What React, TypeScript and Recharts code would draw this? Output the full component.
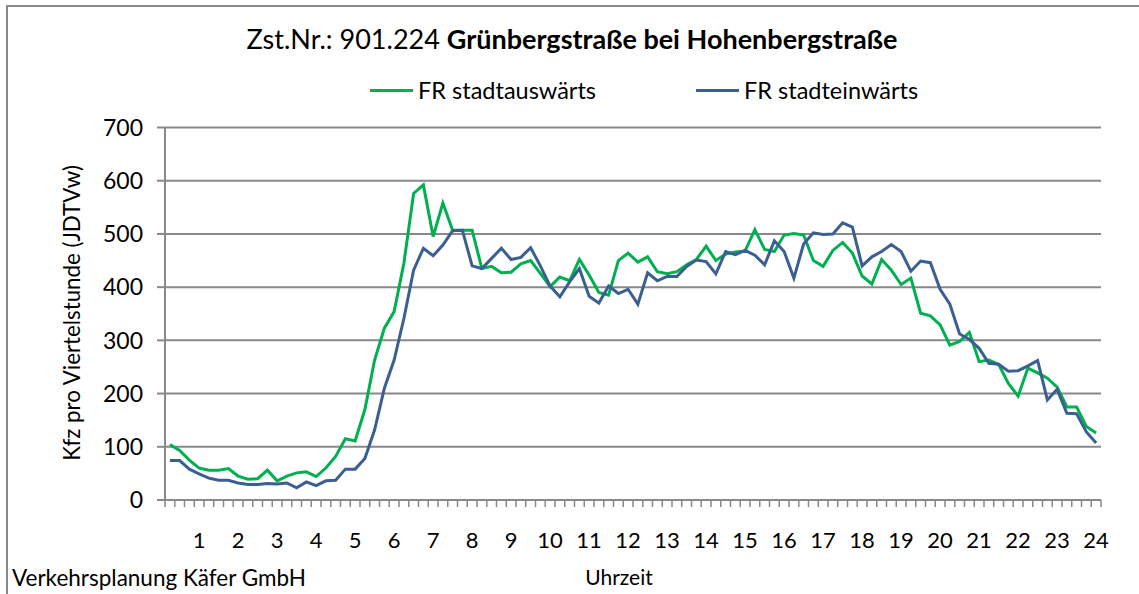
import React from "react";
import { LineChart, Line, XAxis, YAxis, CartesianGrid } from "recharts";

const GREEN = "#00B050";
const BLUE = "#3B5F91";
const GRID = "#898989";
const FONT = "Lato, 'Open Sans', sans-serif";

// Kfz pro Viertelstunde, 96 Viertelstunden (00:15 … 24:00)
const stadtauswaerts = [
  104, 93, 75, 60, 56, 56, 59, 45, 39, 40, 56, 36, 45, 51, 53, 44,
  60, 82, 115, 111, 170, 263, 323, 354, 445, 576, 592, 495, 558, 507, 507, 507,
  435, 439, 427, 428, 444, 450, 426, 401, 419, 412, 452, 423, 390, 385, 450, 464,
  447, 457, 429, 425, 429, 442, 452, 477, 450, 462, 466, 468, 508, 471, 467, 498,
  501, 498, 450, 439, 469, 484, 464, 421, 406, 452, 432, 405, 417, 351, 346, 329,
  291, 298, 315, 260, 263, 255, 219, 195, 248, 239, 229, 212, 175, 175, 138, 126,
];

const stadteinwaerts = [
  74, 74, 58, 49, 41, 37, 37, 32, 29, 29, 31, 30, 32, 23, 34, 27,
  36, 37, 58, 58, 78, 132, 210, 263, 341, 432, 473, 459, 479, 506, 507, 440,
  435, 454, 473, 452, 456, 474, 440, 402, 382, 410, 435, 383, 370, 402, 388, 396,
  368, 427, 412, 420, 420, 439, 451, 448, 425, 467, 461, 469, 460, 442, 487, 467,
  417, 481, 502, 499, 500, 521, 513, 440, 457, 467, 480, 467, 430, 449, 446, 396,
  368, 312, 302, 285, 257, 255, 242, 243, 252, 262, 188, 208, 163, 162, 128, 107,
];

const hourLabels = [
  "1", "2", "3", "4", "5", "6", "7", "8", "9", "10", "11", "12",
  "13", "14", "15", "16", "17", "18", "19", "20", "21", "22", "23", "24",
];
const yTicks = [0, 100, 200, 300, 400, 500, 600, 700];

// slot = Viertelstunden-Index, Punkt liegt in der Mitte der Kategorie
const data = stadtauswaerts.map((v, i) => ({
  slot: i + 0.5,
  aus: v,
  ein: stadteinwaerts[i],
}));
const slotTicks = Array.from({ length: stadtauswaerts.length + 1 }, (_, k) => k);
const hourTicks = hourLabels.map((_, h) => (h + 1) * 4 - 0.5);

const textStyle: React.CSSProperties = {
  position: "absolute",
  fontFamily: FONT,
  color: "#000",
  whiteSpace: "nowrap",
  lineHeight: 1.2,
};

function LegendItem({ color, label, left }: { color: string; label: string; left: number }) {
  return (
    <div style={{ ...textStyle, left, top: 76, fontSize: 23.5, display: "flex", alignItems: "center" }}>
      <span style={{ display: "inline-block", width: 43, height: 3, background: color, marginRight: 5 }} />
      <span>{label}</span>
    </div>
  );
}

export default function App() {
  return (
    <div style={{ position: "absolute", left: 0, top: 0, width: 1139, height: 594, overflow: "hidden", background: "#fff" }}>
      <div
        style={{
          position: "absolute",
          left: 6,
          top: 5,
          width: 1133,
          height: 589,
          borderLeft: `2px solid ${GRID}`,
          borderTop: `2px solid ${GRID}`,
          boxSizing: "border-box",
        }}
      />

      <LineChart
        width={1139}
        height={594}
        data={data}
        margin={{ top: 127.5, right: 38, bottom: 34, left: 0 }}
        style={{ position: "absolute", left: 0, top: 0 }}
      >
        <CartesianGrid xAxisId="a" horizontal vertical={false} stroke={GRID} strokeWidth={2} />
        {/* Teilstriche an den Kategoriegrenzen */}
        <XAxis
          xAxisId="a"
          dataKey="slot"
          type="number"
          domain={[0, 96]}
          allowDataOverflow
          ticks={slotTicks}
          interval={0}
          height={10}
          tickSize={7}
          tickFormatter={() => ""}
          axisLine={{ stroke: GRID, strokeWidth: 2 }}
          tickLine={{ stroke: GRID, strokeWidth: 1.5 }}
        />
        {/* Stundenbeschriftung */}
        <XAxis
          xAxisId="b"
          dataKey="slot"
          type="number"
          domain={[0, 96]}
          allowDataOverflow
          ticks={hourTicks}
          interval={0}
          height={50}
          axisLine={false}
          tickLine={false}
          tickSize={0}
          tickMargin={22}
          tick={{ fontSize: 22, fill: "#000", fontFamily: FONT }}
          tickFormatter={(v: number) => hourLabels[Math.round((v + 0.5) / 4) - 1]}
        />
        <YAxis
          domain={[0, 700]}
          ticks={yTicks}
          interval={0}
          width={165}
          tickSize={8}
          tickMargin={14}
          axisLine={{ stroke: GRID, strokeWidth: 2 }}
          tickLine={{ stroke: GRID, strokeWidth: 2 }}
          tick={{ fontSize: 23, fill: "#000", fontFamily: FONT }}
        />
        <Line
          xAxisId="a"
          type="linear"
          dataKey="aus"
          name="FR stadtauswärts"
          stroke={GREEN}
          strokeWidth={3}
          dot={false}
          isAnimationActive={false}
        />
        <Line
          xAxisId="a"
          type="linear"
          dataKey="ein"
          name="FR stadteinwärts"
          stroke={BLUE}
          strokeWidth={3}
          dot={false}
          isAnimationActive={false}
        />
      </LineChart>

      <div style={{ ...textStyle, left: 0, width: 1144, top: 23, fontSize: 27, textAlign: "center" }}>
        Zst.Nr.: 901.224 <b>Grünbergstraße bei Hohenbergstraße</b>
      </div>

      <LegendItem color={GREEN} label="FR stadtauswärts" left={370} />
      <LegendItem color={BLUE} label="FR stadteinwärts" left={696} />

      <div
        style={{
          ...textStyle,
          left: 72,
          top: 313,
          fontSize: 22.3,
          transform: "translate(-50%, -50%) rotate(-90deg)",
        }}
      >
        Kfz pro Viertelstunde (JDTVw)
      </div>

      <div style={{ ...textStyle, left: 12, top: 564, fontSize: 22.5 }}>Verkehrsplanung Käfer GmbH</div>
      <div style={{ ...textStyle, left: 619, top: 564, fontSize: 21, transform: "translateX(-50%)" }}>Uhrzeit</div>
    </div>
  );
}
